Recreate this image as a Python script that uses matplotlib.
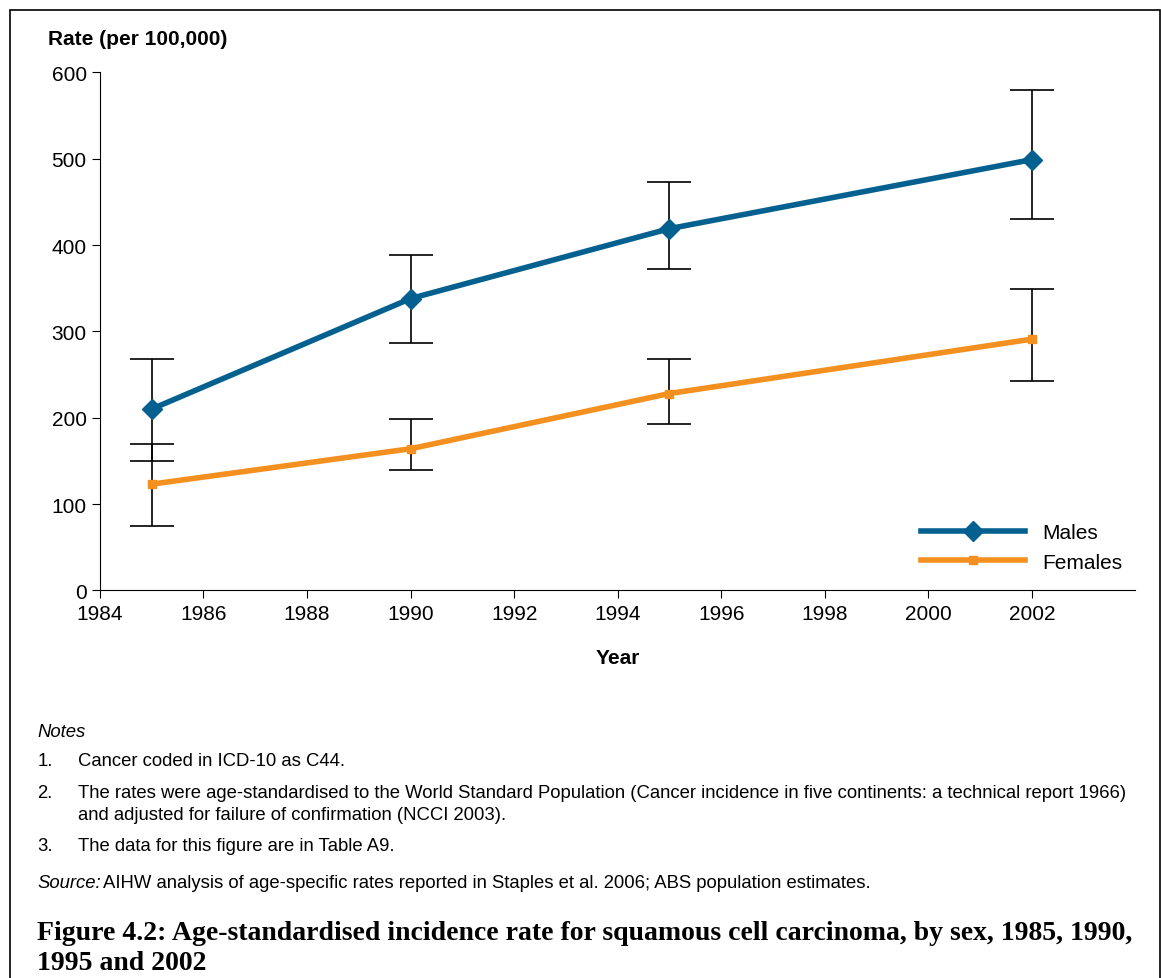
import matplotlib.pyplot as plt
from matplotlib.patches import Rectangle

years = [1985, 1990, 1995, 2002]
males = [210, 338, 419, 499]
males_lo = [150, 287, 372, 430]
males_hi = [268, 389, 473, 580]
females = [123, 164, 228, 291]
females_lo = [75, 139, 193, 242]
females_hi = [170, 199, 268, 349]

plt.rcParams['font.family'] = ['Liberation Sans', 'DejaVu Sans']

fig = plt.figure(figsize=(11.61, 9.79), dpi=100)
fig.patches.append(Rectangle((0.009, -0.01), 0.99, 0.999, transform=fig.transFigure,
                             fill=False, edgecolor='black', linewidth=1.2))

ax = fig.add_axes([0.086, 0.396, 0.892, 0.529])
blue = '#04618f'
orange = '#f39020'

for vals, lo, hi in [(males, males_lo, males_hi), (females, females_lo, females_hi)]:
    err = [[v - l for v, l in zip(vals, lo)], [h - v for v, h in zip(vals, hi)]]
    ax.errorbar(years, vals, yerr=err, fmt='none', ecolor='black', elinewidth=1.2,
                capsize=16, capthick=1.2, zorder=2)

ax.plot(years, males, color=blue, lw=4, marker='D', ms=10, label='Males', zorder=3)
ax.plot(years, females, color=orange, lw=4, marker='s', ms=6, label='Females', zorder=3)

ax.set_xlim(1984, 2004)
ax.set_ylim(0, 600)
ax.set_xticks(range(1984, 2003, 2))
ax.set_yticks(range(0, 601, 100))
ax.tick_params(labelsize=15, direction='out', length=6)
for s in ['top', 'right']:
    ax.spines[s].set_visible(False)
ax.set_xlabel('Year', fontsize=15, fontweight='bold', labelpad=18)
ax.text(-0.05, 1.055, 'Rate (per 100,000)', transform=ax.transAxes, fontsize=15,
        fontweight='bold')
ax.legend(loc='lower right', frameon=False, fontsize=15, handlelength=5,
          bbox_to_anchor=(1.005, 0.0))

fs = 13.3
notes = [
    (0.032, 0.252, 'Notes', dict(style='italic')),
    (0.032, 0.222, '1.', {}), (0.067, 0.222, 'Cancer coded in ICD-10 as C44.', {}),
    (0.032, 0.189, '2.', {}),
    (0.067, 0.189, 'The rates were age-standardised to the World Standard Population (Cancer incidence in five continents: a technical report 1966)', {}),
    (0.067, 0.167, 'and adjusted for failure of confirmation (NCCI 2003).', {}),
    (0.032, 0.135, '3.', {}), (0.067, 0.135, 'The data for this figure are in Table A9.', {}),
]
for x, y, t, kw in notes:
    fig.text(x, y, t, fontsize=fs, va='center', **kw)
fig.text(0.032, 0.098, 'Source:', fontsize=fs, style='italic', va='center')
fig.text(0.089, 0.098, 'AIHW analysis of age-specific rates reported in Staples et al. 2006; ABS population estimates.',
         fontsize=fs, va='center')
fig.text(0.032, 0.031, 'Figure 4.2: Age-standardised incidence rate for squamous cell carcinoma, by sex, 1985, 1990,\n1995 and 2002',
         fontsize=20, fontweight='bold', family=['Liberation Serif', 'DejaVu Serif'],
         va='center', linespacing=1.25)

fig.savefig('out.png', dpi=100)
